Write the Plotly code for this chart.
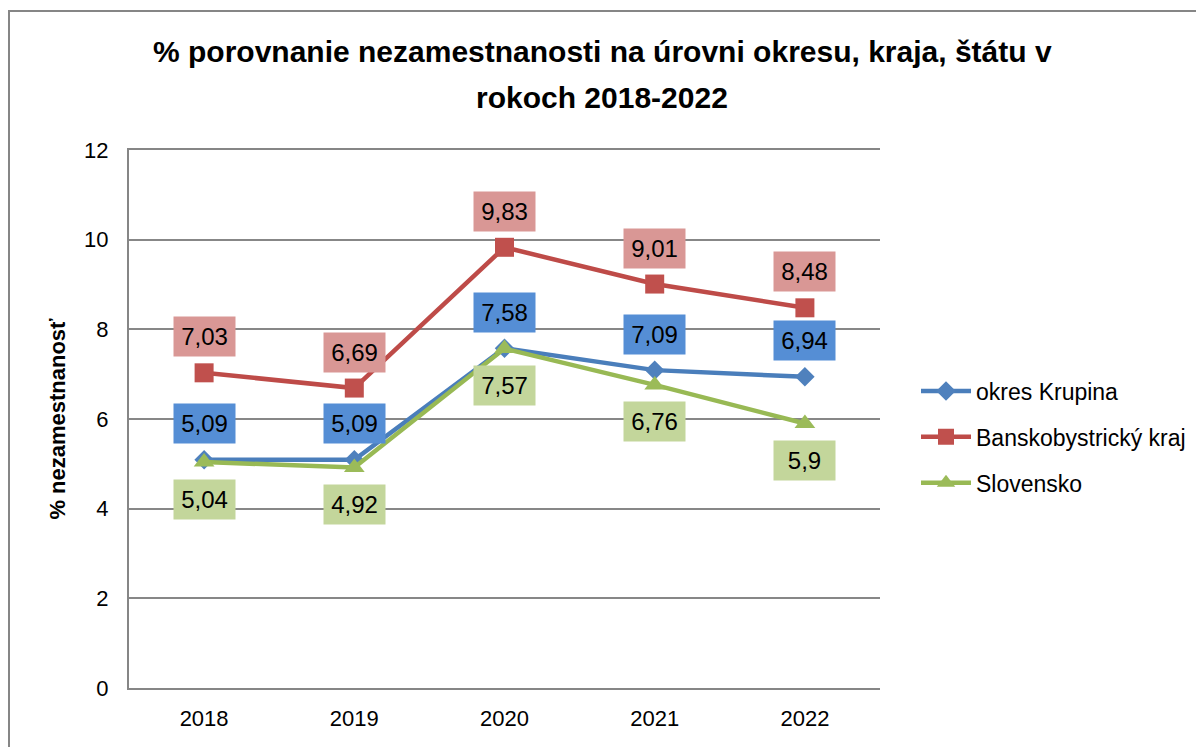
import plotly.graph_objects as go

years = [2018, 2019, 2020, 2021, 2022]
krupina = [5.09, 5.09, 7.58, 7.09, 6.94]
bbkraj = [7.03, 6.69, 9.83, 9.01, 8.48]
slovensko = [5.04, 4.92, 7.57, 6.76, 5.90]
series_names = ["okres Krupina", "Banskobystrický kraj", "Slovensko"]
y_ticks = [0, 2, 4, 6, 8, 10, 12]
title_line1 = "% porovnanie nezamestnanosti na úrovni okresu, kraja, štátu v"
title_line2 = "rokoch 2018-2022"
y_title = "% nezamestnanosť"

FONT = "Liberation Sans, sans-serif"

def fmt(v):
    s = ("%.2f" % v).rstrip("0").rstrip(".")
    return s.replace(".", ",")

# page offset (body margin) = 8px
OFF = 8
# desired plot area in screenshot pixels
PX0, PX1, PY0, PY1 = 129, 880, 150, 688
W, H = 1196, 739
L = PX0 - OFF
T = PY0 - OFF
R = W - (PX1 - OFF)
B = H - (PY1 - OFF)
pw, ph = PX1 - PX0, PY1 - PY0

def paper_x(px):
    return (px - PX0) / pw

def paper_y(py):
    return (PY1 - py) / ph

fig = go.Figure()

specs = [
    (krupina, series_names[0], "#4A7EBB", "#4F81BD", "diamond", 15, "#558ED5", 36),
    (bbkraj, series_names[1], "#BE4B48", "#C0504D", "square", 19, "#D99795", 36),
    (slovensko, series_names[2], "#98B954", "#9BBB59", "triangle-up", 18, "#C3D69B", -37),
]

for i, (vals, name, lc, mc, sym, ms, bg, ysh) in enumerate(specs):
    fig.add_trace(go.Scatter(
        x=years, y=vals, name=name, mode="lines+markers",
        line=dict(color=lc, width=4.5),
        marker=dict(symbol=sym, size=ms, color=mc, line=dict(width=0)),
        legendgroup="g%d" % i,
    ))
    for xv, yv in zip(years, vals):
        fig.add_annotation(
            x=xv, y=yv, xref="x", yref="y", text=fmt(yv), showarrow=False,
            yshift=ysh, bgcolor=bg, width=55, height=33, borderpad=3,
            font=dict(family=FONT, size=24, color="#000000"),
        )

fig.add_annotation(
    x=paper_x(602), y=paper_y(51), xref="paper", yref="paper",
    xanchor="center", yanchor="middle",
    text="<b>%s</b>" % title_line1, showarrow=False,
    font=dict(family=FONT, size=30, color="#000000"),
)
fig.add_annotation(
    x=paper_x(602), y=paper_y(98), xref="paper", yref="paper",
    xanchor="center", yanchor="middle",
    text="<b>%s</b>" % title_line2, showarrow=False,
    font=dict(family=FONT, size=30, color="#000000"),
)

# outer chart border
fig.add_shape(type="rect", xref="paper", yref="paper",
              x0=paper_x(9), x1=paper_x(1260),
              y0=paper_y(800), y1=paper_y(11),
              line=dict(color="#868686", width=2), fillcolor="rgba(0,0,0,0)", layer="below")

fig.update_layout(
    width=W, height=H,
    margin=dict(l=L, r=R, t=T, b=B),
    paper_bgcolor="white", plot_bgcolor="white",
    showlegend=True,
    legend=dict(
        x=paper_x(916), y=paper_y(437), xanchor="left", yanchor="middle",
        font=dict(family=FONT, size=23, color="#000000"),
        traceorder="grouped", tracegroupgap=13, itemwidth=50,
        bgcolor="rgba(0,0,0,0)",
    ),
    font=dict(family=FONT, color="#000000"),
)

fig.update_xaxes(
    range=[years[0] - 0.5, years[-1] + 0.5], tickvals=years, ticktext=[str(y) for y in years],
    showline=True, mirror=True, linecolor="#868686", linewidth=2,
    showgrid=False, zeroline=False, ticks="", ticklabelstandoff=10,
    tickfont=dict(family=FONT, size=22, color="#000000"),
)
fig.update_yaxes(
    range=[0, 12], tickvals=y_ticks, ticktext=[str(t) for t in y_ticks],
    showline=True, linecolor="#868686", linewidth=2,
    showgrid=True, gridcolor="#878787", gridwidth=1.5,
    zeroline=False, ticks="", ticklabelstandoff=14,
    tickfont=dict(family=FONT, size=22, color="#000000"),
    title=dict(text="<b>%s</b>" % y_title, font=dict(family=FONT, size=22, color="#000000"), standoff=12),
)

fig.write_html("out.html")
